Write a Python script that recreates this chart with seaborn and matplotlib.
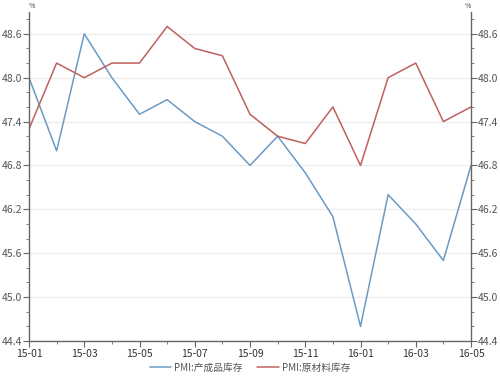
import matplotlib
matplotlib.use("Agg")
import matplotlib.pyplot as plt
import seaborn as sns
import pandas as pd
import numpy as np
from matplotlib.ticker import MultipleLocator
from matplotlib.lines import Line2D

months = ["15-01","15-02","15-03","15-04","15-05","15-06","15-07","15-08","15-09",
          "15-10","15-11","15-12","16-01","16-02","16-03","16-04","16-05"]
finished = [48.0, 47.0, 48.6, 48.0, 47.5, 47.7, 47.4, 47.2, 46.8,
            47.2, 46.7, 46.1, 44.6, 46.4, 46.0, 45.5, 46.8]
raw = [47.3, 48.2, 48.0, 48.2, 48.2, 48.7, 48.4, 48.3, 47.5,
       47.2, 47.1, 47.6, 46.8, 48.0, 48.2, 47.4, 47.6]
series_names = ["PMI:产成品库存", "PMI:原材料库存"]
tick_labels = ["15-01","15-03","15-05","15-07","15-09","15-11","16-01","16-03","16-05"]

sns.set_style("white")
plt.rcParams['font.family'] = ['Noto Sans CJK SC', 'DejaVu Sans']

df = pd.DataFrame({
    "x": list(range(len(months))) * 2,
    "value": finished + raw,
    "series": [series_names[0]] * len(months) + [series_names[1]] * len(months),
})

fig = plt.figure(figsize=(5, 3.77), dpi=100)
ax = fig.add_axes([0.058, 0.0955, 0.884, 0.873])
sns.lineplot(data=df, x="x", y="value", hue="series",
             palette=["#6b9ac4", "#c0605e"], linewidth=1.1, ax=ax, legend=False)

ax.set_xlim(0, len(months) - 1)
ax.set_ylim(44.4, 48.9)
ax.set_xlabel("")
ax.set_ylabel("")
ax.yaxis.set_minor_locator(MultipleLocator(0.2))
ax.set_xticks(range(0, len(months), 2))
ax.set_xticklabels(tick_labels)
ax.set_xticks(range(len(months)), minor=True)
yt = np.round(np.arange(44.4, 48.61, 0.6), 1)
ax.set_yticks(yt)
ax.set_yticklabels([f"{v:.1f}" for v in yt])
ax.grid(axis="y", color="#ececec", linewidth=0.8)
ax.grid(axis="x", visible=False)

ax.spines["top"].set_visible(False)
for s in ["left", "right", "bottom"]:
    ax.spines[s].set_color("#666666")
    ax.spines[s].set_linewidth(1.0)

ax.tick_params(axis="y", which="both", left=True, right=True, labelleft=True,
               labelright=True, direction="out", colors="#666666", labelsize=7.5,
               labelcolor="#555555", pad=1)
ax.tick_params(axis="y", which="major", length=4)
ax.tick_params(axis="y", which="minor", length=2)
ax.tick_params(axis="x", which="both", bottom=True, direction="out",
               colors="#666666", labelsize=7.5, labelcolor="#333333", pad=2)
ax.tick_params(axis="x", which="major", length=4)
ax.tick_params(axis="x", which="minor", length=2)

ax.text(0.0, 1.005, "%", transform=ax.transAxes, fontsize=5, color="#444444",
        ha="left", va="bottom")
ax.text(1.0, 1.005, "%", transform=ax.transAxes, fontsize=5, color="#444444",
        ha="right", va="bottom")

handles = [Line2D([], [], color="#6b9ac4", lw=1.1), Line2D([], [], color="#c0605e", lw=1.1)]
fig.legend(handles, series_names, loc="lower center", bbox_to_anchor=(0.5, -0.012),
           ncol=2, frameon=False, fontsize=7, handlelength=2.2, columnspacing=1.5,
           labelcolor="#555555", handletextpad=0.3)

fig.savefig("out.png", dpi=100)
